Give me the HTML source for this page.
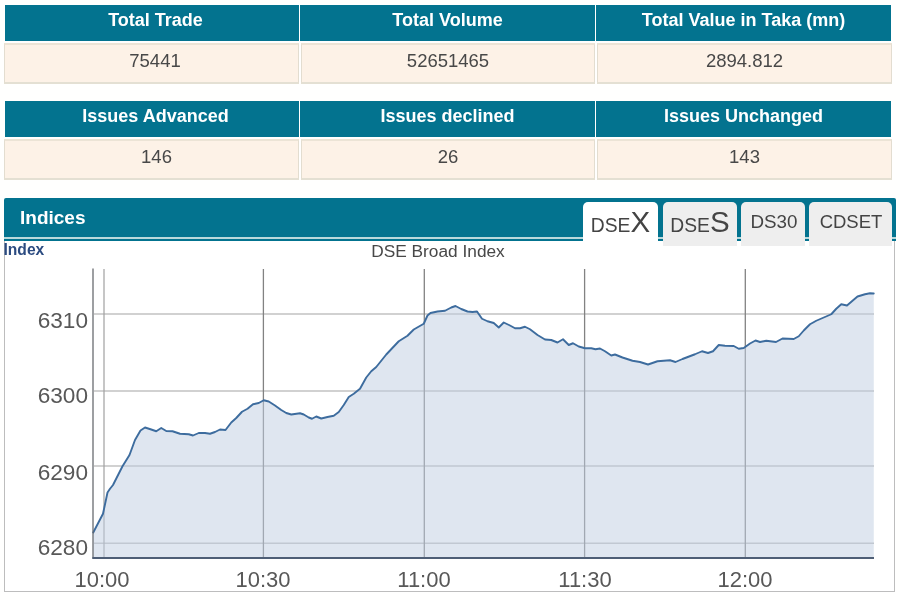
<!DOCTYPE html>
<html>
<head>
<meta charset="utf-8">
<title>DSE Indices</title>
<style>
html,body{margin:0;padding:0;}
body{width:900px;height:600px;overflow:hidden;background:#fffffe;position:relative;font-family:"Liberation Sans",sans-serif;}
.abs{position:absolute;}
.th{position:absolute;background:#03738f;color:#fff;font-weight:bold;font-size:18px;text-align:center;height:36px;line-height:31px;white-space:nowrap;box-sizing:border-box;}
.td{position:absolute;background:#fdf2e7;border:1px solid #e3ddd0;border-top:2px solid #ece4d6;border-bottom:2px solid #e4e0d3;box-sizing:border-box;color:#484848;font-size:18.5px;text-align:center;height:41px;line-height:31.5px;white-space:nowrap;}
.bar{position:absolute;left:3.5px;top:197.5px;width:892px;height:39.5px;background:#03738f;border-radius:2px 2px 0 0;}
.bar2{position:absolute;left:3.5px;top:237px;width:892px;height:2px;background:#b9d9dc;}
.bar3{position:absolute;left:3.5px;top:239px;width:892px;height:2px;background:#03738f;}
.box{position:absolute;left:3.5px;top:241px;width:891px;height:350.5px;border:1px solid #bdbdbd;border-top:none;box-sizing:border-box;background:#fff;}
.tab{position:absolute;top:202px;height:44px;background:#eeeeee;border-radius:5px 5px 0 0;color:#444;font-size:18.5px;text-align:center;white-space:nowrap;box-sizing:border-box;}
.tab.on{background:#fff;height:46px;}
.big{font-size:29.5px;}.sm{font-size:19.3px;}
.yl{position:absolute;left:20px;width:68px;text-align:right;font-size:22.6px;color:#585858;line-height:22px;height:22px;}
.xl{position:absolute;top:569px;width:80px;text-align:center;font-size:22px;color:#585858;line-height:22px;height:22px;}
</style>
</head>
<body>
<div id="wrap" style="position:absolute;left:0;top:0;width:900px;height:600px;filter:blur(0.45px);">
<!-- table 1 -->
<div class="th" style="left:5px;top:5px;width:294px;padding-left:7px;">Total Trade</div>
<div class="th" style="left:300px;top:5px;width:295px;">Total Volume</div>
<div class="th" style="left:596px;top:5px;width:295px;">Total Value in Taka (mn)</div>
<div class="td" style="left:4px;top:43px;width:295px;padding-left:7px;">75441</div>
<div class="td" style="left:301px;top:43px;width:294px;">52651465</div>
<div class="td" style="left:597px;top:43px;width:295px;">2894.812</div>
<!-- table 2 -->
<div class="th" style="left:5px;top:101px;width:294px;padding-left:7px;">Issues Advanced</div>
<div class="th" style="left:300px;top:101px;width:295px;">Issues declined</div>
<div class="th" style="left:596px;top:101px;width:295px;">Issues Unchanged</div>
<div class="td" style="left:4px;top:139px;width:295px;padding-left:10px;">146</div>
<div class="td" style="left:301px;top:139px;width:294px;">26</div>
<div class="td" style="left:597px;top:139px;width:295px;">143</div>

<!-- indices bar -->
<div class="bar"></div><div class="bar2"></div><div class="bar3"></div>
<div class="abs" style="left:20px;top:207px;font-size:19px;font-weight:bold;color:#fff;line-height:22px;">Indices</div>
<div class="box"></div>
<div class="tab on" style="left:583px;width:75px;line-height:38px;padding-top:1px;"><span class="sm">DSE</span><span class="big">X</span></div>
<div class="tab" style="left:663px;width:74px;line-height:38px;padding-top:1px;"><span class="sm">DSE</span><span class="big">S</span></div>
<div class="tab" style="left:741px;width:64px;line-height:40px;padding-left:2px;font-size:18.8px;">DS30</div>
<div class="tab" style="left:809px;width:83px;line-height:40px;padding-left:1px;">CDSET</div>

<div class="abs" style="left:3.5px;top:241px;font-size:15.6px;font-weight:bold;color:#2b4b80;line-height:18px;">Index</div>
<div class="abs" style="left:338px;top:240.5px;width:200px;text-align:center;font-size:17.3px;color:#484848;line-height:20px;">DSE Broad Index</div>

<svg class="abs" style="left:0;top:0;" width="900" height="600" viewBox="0 0 900 600">
<g stroke="#c2c2c2" stroke-width="1.6">
<line x1="94" y1="314" x2="874" y2="314"/>
<line x1="94" y1="391" x2="874" y2="391"/>
<line x1="94" y1="466" x2="874" y2="466"/>
<line x1="94" y1="543.3" x2="874" y2="543.3"/>
</g>
<g stroke="#828282" stroke-width="1.3">
<line x1="104" y1="269" x2="104" y2="558" stroke="#a0a0a0" stroke-width="1.2"/>
<line x1="263.4" y1="269" x2="263.4" y2="558"/>
<line x1="424.3" y1="269" x2="424.3" y2="558"/>
<line x1="584.6" y1="269" x2="584.6" y2="558"/>
<line x1="745.3" y1="269" x2="745.3" y2="558"/>
</g>
<path id="area" fill="#c0cee1" fill-opacity="0.51" stroke="none" d="M93.25 532.5 L103 513.75 L107.5 492.5 L110 488.75 L113 485 L122.5 466.25 L129.5 455 L135 440 L140.5 430.5 L145 427.5 L150.5 429.25 L156.25 431.25 L161.25 428 L166.25 431 L172.5 431.25 L180 433.75 L188.75 434.25 L193 435.5 L198.75 433 L205 433 L210 433.75 L215 432 L220 429.5 L225.5 430 L231.25 422.5 L236.25 418 L242 411.75 L247.5 408.75 L253 404.25 L258.75 403 L263.75 400.25 L268.75 401.5 L275 405.5 L281.25 410 L286.25 413 L291.25 414.5 L300 413.25 L303.75 414.5 L308.75 417.5 L312 418.75 L316.25 416.5 L321.25 418.5 L327.5 417 L333.75 415.75 L338.75 412 L343.75 405 L348.75 397 L353.75 393.75 L360 388.75 L366.25 377.5 L371.25 371.25 L376.25 367 L386.25 354.5 L398.75 341.25 L407.5 335.75 L413.75 329.5 L423.75 323.75 L427.5 315.5 L430.5 313 L437.5 311.5 L445 310.75 L451.25 307.5 L455.5 306 L461.25 309 L467.5 311.5 L472.5 312 L477 311.5 L482 318.75 L487.5 321.25 L493.75 323 L498.75 327.5 L503.75 322.5 L510 325.5 L515 328.25 L520 328.25 L525 326.75 L530 329.25 L537.5 335 L545 339.5 L551.25 340 L557.5 342.5 L563 339.25 L568.75 345 L573 343.25 L578.75 346.5 L585 348.25 L591.25 348.25 L595.5 349.25 L600 348.5 L605 351.25 L611.25 355.5 L615 354.5 L622.5 357.5 L632.5 360.75 L640 362 L648 364.5 L657.5 361.25 L670 360.25 L675.5 362 L682.5 359 L695 354.25 L702 351.25 L708 353 L713 351.25 L718.75 345 L725 345.75 L733.75 346 L738.75 348.75 L743.75 348 L750 343.5 L755.5 340.5 L760 342 L766.25 340.75 L776 342 L782.5 338.5 L793.75 339 L798.75 336.25 L803.75 330.5 L810 324.25 L816.25 320.75 L823.75 317.5 L831.25 314.25 L836.25 308.75 L841.25 304.25 L847 305.5 L852.5 300.75 L857.5 296.5 L865 294.25 L870 293.25 L873.75 293.5 L873.75 558 L93.25 558 Z"/>
<path id="line" fill="none" stroke="#3d6c9e" stroke-width="1.9" stroke-linejoin="round" stroke-linecap="round" d="M93.25 532.5 L103 513.75 L107.5 492.5 L110 488.75 L113 485 L122.5 466.25 L129.5 455 L135 440 L140.5 430.5 L145 427.5 L150.5 429.25 L156.25 431.25 L161.25 428 L166.25 431 L172.5 431.25 L180 433.75 L188.75 434.25 L193 435.5 L198.75 433 L205 433 L210 433.75 L215 432 L220 429.5 L225.5 430 L231.25 422.5 L236.25 418 L242 411.75 L247.5 408.75 L253 404.25 L258.75 403 L263.75 400.25 L268.75 401.5 L275 405.5 L281.25 410 L286.25 413 L291.25 414.5 L300 413.25 L303.75 414.5 L308.75 417.5 L312 418.75 L316.25 416.5 L321.25 418.5 L327.5 417 L333.75 415.75 L338.75 412 L343.75 405 L348.75 397 L353.75 393.75 L360 388.75 L366.25 377.5 L371.25 371.25 L376.25 367 L386.25 354.5 L398.75 341.25 L407.5 335.75 L413.75 329.5 L423.75 323.75 L427.5 315.5 L430.5 313 L437.5 311.5 L445 310.75 L451.25 307.5 L455.5 306 L461.25 309 L467.5 311.5 L472.5 312 L477 311.5 L482 318.75 L487.5 321.25 L493.75 323 L498.75 327.5 L503.75 322.5 L510 325.5 L515 328.25 L520 328.25 L525 326.75 L530 329.25 L537.5 335 L545 339.5 L551.25 340 L557.5 342.5 L563 339.25 L568.75 345 L573 343.25 L578.75 346.5 L585 348.25 L591.25 348.25 L595.5 349.25 L600 348.5 L605 351.25 L611.25 355.5 L615 354.5 L622.5 357.5 L632.5 360.75 L640 362 L648 364.5 L657.5 361.25 L670 360.25 L675.5 362 L682.5 359 L695 354.25 L702 351.25 L708 353 L713 351.25 L718.75 345 L725 345.75 L733.75 346 L738.75 348.75 L743.75 348 L750 343.5 L755.5 340.5 L760 342 L766.25 340.75 L776 342 L782.5 338.5 L793.75 339 L798.75 336.25 L803.75 330.5 L810 324.25 L816.25 320.75 L823.75 317.5 L831.25 314.25 L836.25 308.75 L841.25 304.25 L847 305.5 L852.5 300.75 L857.5 296.5 L865 294.25 L870 293.25 L873.75 293.5"/>
<line x1="93" y1="268.5" x2="93" y2="558.7" stroke="#62656a" stroke-width="1.25"/>
<line x1="92.4" y1="558" x2="874" y2="558" stroke="#4e5e76" stroke-width="1.8"/>
</svg>

<div class="yl" style="top:310px;">6310</div>
<div class="yl" style="top:385px;">6300</div>
<div class="yl" style="top:462px;">6290</div>
<div class="yl" style="top:537px;">6280</div>
<div class="xl" style="left:62px;">10:00</div>
<div class="xl" style="left:223px;">10:30</div>
<div class="xl" style="left:384px;">11:00</div>
<div class="xl" style="left:545px;">11:30</div>
<div class="xl" style="left:705px;">12:00</div>
</div>
</body>
</html>
